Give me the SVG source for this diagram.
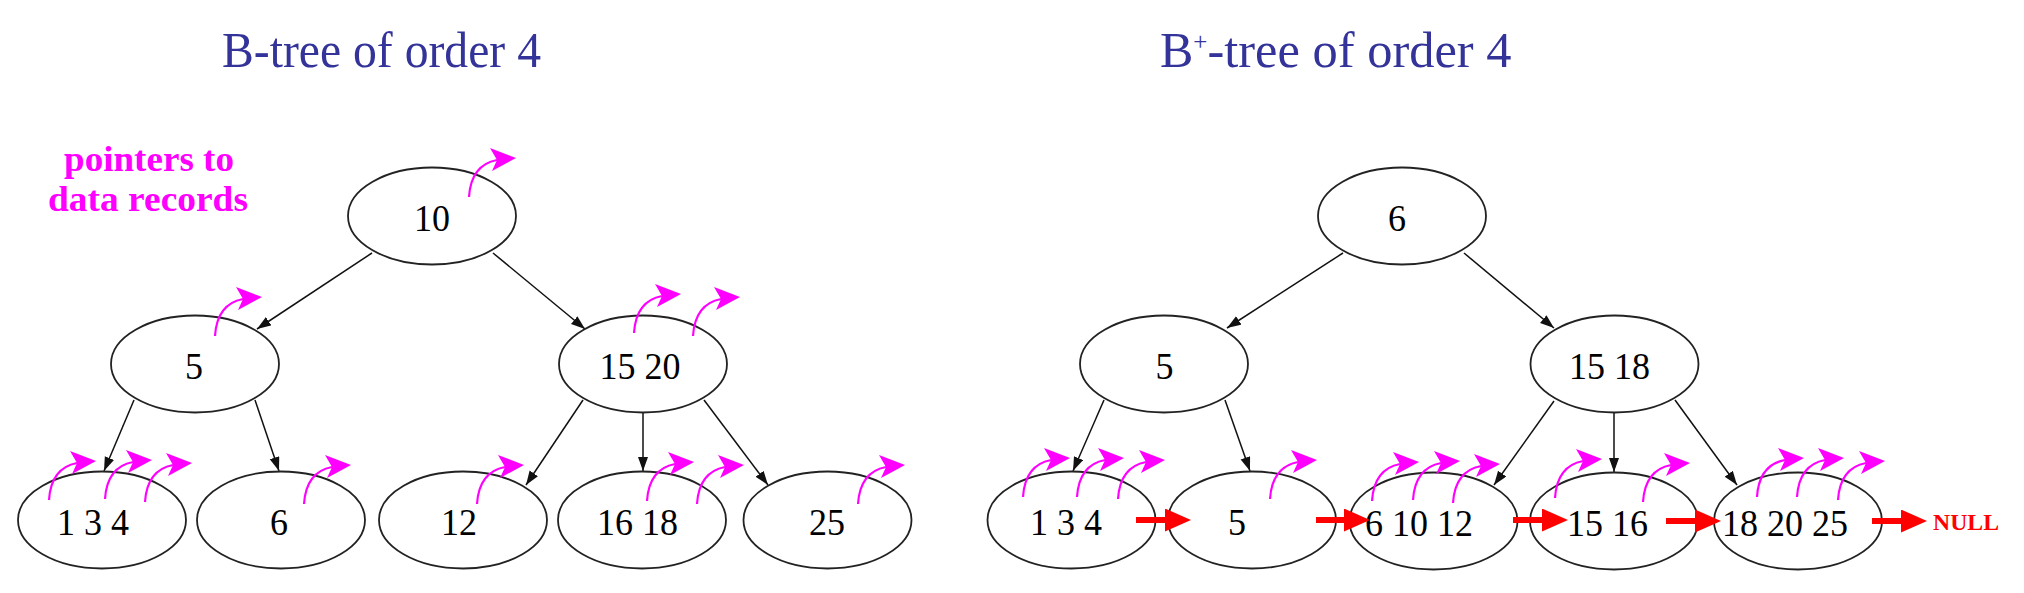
<svg xmlns="http://www.w3.org/2000/svg" xmlns:xlink="http://www.w3.org/1999/xlink" width="2024" height="593" viewBox="0 0 2024 593">
<style>
.node ellipse{fill:#fff;stroke:#222;stroke-width:1.8}
.node text{font-family:"Liberation Serif","DejaVu Serif","Times New Roman",serif;font-size:38px;fill:#000;text-anchor:middle}
.title{font-family:"Liberation Serif","DejaVu Serif","Times New Roman",serif;font-size:50px;fill:#333399}
.note{font-family:"Liberation Serif","DejaVu Serif","Times New Roman",serif;font-weight:bold;font-size:36px;fill:#FF00FF;text-anchor:middle}
.edge{stroke:#111;stroke-width:1.5;fill:none;marker-end:url(#ah)}
.link{stroke:#FF0000;stroke-width:6;fill:none;marker-end:url(#rh)}
.null{font-family:"Liberation Serif","DejaVu Serif","Times New Roman",serif;font-weight:bold;font-size:24px;fill:#FF0000}
</style>
<defs>
<marker id="ah" markerUnits="userSpaceOnUse" markerWidth="15" markerHeight="11" refX="14" refY="5" orient="auto"><path d="M0,0 L14,5 L0,10 z" fill="#111"/></marker>
<marker id="rh" markerUnits="userSpaceOnUse" markerWidth="28" markerHeight="24" refX="2" refY="11.5" orient="auto"><path d="M0,0 L26,11.5 L0,23 z" fill="#FF0000"/></marker>
<g id="ptr"><path d="M0,0 C1,-16 7,-33 28,-37" fill="none" stroke="#FF00FF" stroke-width="2.2"/><path d="M21,-49 L47,-39 L23,-26 L28,-37 Z" fill="#FF00FF"/></g>
</defs>
<rect width="2024" height="593" fill="#fff"/>

<text class="title" x="222" y="67" textLength="319" lengthAdjust="spacingAndGlyphs">B-tree of order 4</text>
<text class="title" x="1160" y="67">B<tspan font-size="25" dy="-17">+</tspan><tspan dy="17" textLength="304" lengthAdjust="spacingAndGlyphs">-tree of order 4</tspan></text>
<text class="note" x="149" y="171" textLength="170" lengthAdjust="spacingAndGlyphs">pointers to</text>
<text class="note" x="148" y="211" textLength="200" lengthAdjust="spacingAndGlyphs">data records</text>

<g id="connectors">
<line class="edge" x1="372" y1="253" x2="257" y2="329"/>
<line class="edge" x1="493" y1="253" x2="585" y2="329"/>
<line class="edge" x1="134" y1="400" x2="104" y2="471"/>
<line class="edge" x1="255" y1="400" x2="279" y2="471"/>
<line class="edge" x1="583" y1="400" x2="526" y2="485"/>
<line class="edge" x1="643" y1="413" x2="643" y2="471"/>
<line class="edge" x1="704" y1="400" x2="768" y2="485"/>
<line class="edge" x1="1343" y1="253" x2="1227" y2="328"/>
<line class="edge" x1="1464" y1="253" x2="1554" y2="328"/>
<line class="edge" x1="1104" y1="400" x2="1073" y2="471"/>
<line class="edge" x1="1225" y1="400" x2="1250" y2="471"/>
<line class="edge" x1="1554" y1="401" x2="1494" y2="485"/>
<line class="edge" x1="1614" y1="413" x2="1614" y2="472"/>
<line class="edge" x1="1675" y1="400" x2="1737" y2="485"/>
</g>

<g id="b-root" class="node"><ellipse cx="432" cy="216" rx="84" ry="48.5"/><text x="432" y="231" textLength="36" lengthAdjust="spacingAndGlyphs">10</text></g>
<g id="b-5" class="node"><ellipse cx="195" cy="364" rx="84" ry="48.5"/><text x="194" y="379" textLength="18" lengthAdjust="spacingAndGlyphs">5</text></g>
<g id="b-15-20" class="node"><ellipse cx="643" cy="364" rx="84" ry="48.5"/><text x="640" y="379" textLength="81" lengthAdjust="spacingAndGlyphs">15 20</text></g>
<g id="b-1-3-4" class="node"><ellipse cx="102" cy="520" rx="84" ry="48.5"/><text x="93" y="535" textLength="72" lengthAdjust="spacingAndGlyphs">1 3 4</text></g>
<g id="b-6" class="node"><ellipse cx="281" cy="520" rx="84" ry="48.5"/><text x="279" y="535" textLength="18" lengthAdjust="spacingAndGlyphs">6</text></g>
<g id="b-12" class="node"><ellipse cx="463" cy="520" rx="84" ry="48.5"/><text x="459" y="535" textLength="36" lengthAdjust="spacingAndGlyphs">12</text></g>
<g id="b-16-18" class="node"><ellipse cx="642" cy="520" rx="84" ry="48.5"/><text x="637.5" y="535" textLength="81" lengthAdjust="spacingAndGlyphs">16 18</text></g>
<g id="b-25" class="node"><ellipse cx="827.5" cy="520" rx="84" ry="48.5"/><text x="827" y="535" textLength="36" lengthAdjust="spacingAndGlyphs">25</text></g>

<g id="bp-root" class="node"><ellipse cx="1402" cy="216" rx="84" ry="48.5"/><text x="1397" y="231" textLength="18" lengthAdjust="spacingAndGlyphs">6</text></g>
<g id="bp-5" class="node"><ellipse cx="1164" cy="364" rx="84" ry="48.5"/><text x="1164.5" y="379" textLength="18" lengthAdjust="spacingAndGlyphs">5</text></g>
<g id="bp-15-18" class="node"><ellipse cx="1614.5" cy="364" rx="84" ry="48.5"/><text x="1609.5" y="379" textLength="81" lengthAdjust="spacingAndGlyphs">15 18</text></g>
<g id="bp-1-3-4" class="node"><ellipse cx="1071.5" cy="520" rx="84" ry="48.5"/><text x="1066" y="535" textLength="72" lengthAdjust="spacingAndGlyphs">1 3 4</text></g>
<g id="bp-leaf-5" class="node"><ellipse cx="1252" cy="520" rx="84" ry="48.5"/><text x="1237" y="535" textLength="18" lengthAdjust="spacingAndGlyphs">5</text></g>
<g id="bp-6-10-12" class="node"><ellipse cx="1433.5" cy="521" rx="84" ry="48.5"/><text x="1419" y="536" textLength="108" lengthAdjust="spacingAndGlyphs">6 10 12</text></g>
<g id="bp-15-16" class="node"><ellipse cx="1614" cy="521" rx="84" ry="48.5"/><text x="1607.5" y="536" textLength="81" lengthAdjust="spacingAndGlyphs">15 16</text></g>
<g id="bp-18-20-25" class="node"><ellipse cx="1798" cy="521" rx="84" ry="48.5"/><text x="1785" y="536" textLength="126" lengthAdjust="spacingAndGlyphs">18 20 25</text></g>

<g id="leaf-links">
<line class="link" x1="1136" y1="520" x2="1167" y2="520"/>
<line class="link" x1="1316" y1="520" x2="1346" y2="520"/>
<line class="link" x1="1513" y1="520" x2="1544" y2="520"/>
<line class="link" x1="1666" y1="521" x2="1697" y2="521"/>
<line class="link" x1="1872" y1="521" x2="1903" y2="521"/>
</g>
<text class="null" x="1933" y="530" textLength="66" lengthAdjust="spacingAndGlyphs">NULL</text>

<g id="record-pointers">
<use xlink:href="#ptr" x="469" y="197"/>
<use xlink:href="#ptr" x="215" y="336"/>
<use xlink:href="#ptr" x="634" y="333"/>
<use xlink:href="#ptr" x="693" y="336"/>
<use xlink:href="#ptr" x="49" y="500"/>
<use xlink:href="#ptr" x="105" y="499"/>
<use xlink:href="#ptr" x="145" y="502"/>
<use xlink:href="#ptr" x="304" y="504"/>
<use xlink:href="#ptr" x="477" y="504"/>
<use xlink:href="#ptr" x="647" y="501"/>
<use xlink:href="#ptr" x="697" y="504"/>
<use xlink:href="#ptr" x="858" y="504"/>
<use xlink:href="#ptr" x="1023" y="497"/>
<use xlink:href="#ptr" x="1077" y="497"/>
<use xlink:href="#ptr" x="1118" y="499"/>
<use xlink:href="#ptr" x="1270" y="499"/>
<use xlink:href="#ptr" x="1372" y="501"/>
<use xlink:href="#ptr" x="1413" y="500"/>
<use xlink:href="#ptr" x="1453" y="503"/>
<use xlink:href="#ptr" x="1555" y="498"/>
<use xlink:href="#ptr" x="1643" y="502"/>
<use xlink:href="#ptr" x="1757" y="497"/>
<use xlink:href="#ptr" x="1797" y="497"/>
<use xlink:href="#ptr" x="1838" y="500"/>
</g>
</svg>
